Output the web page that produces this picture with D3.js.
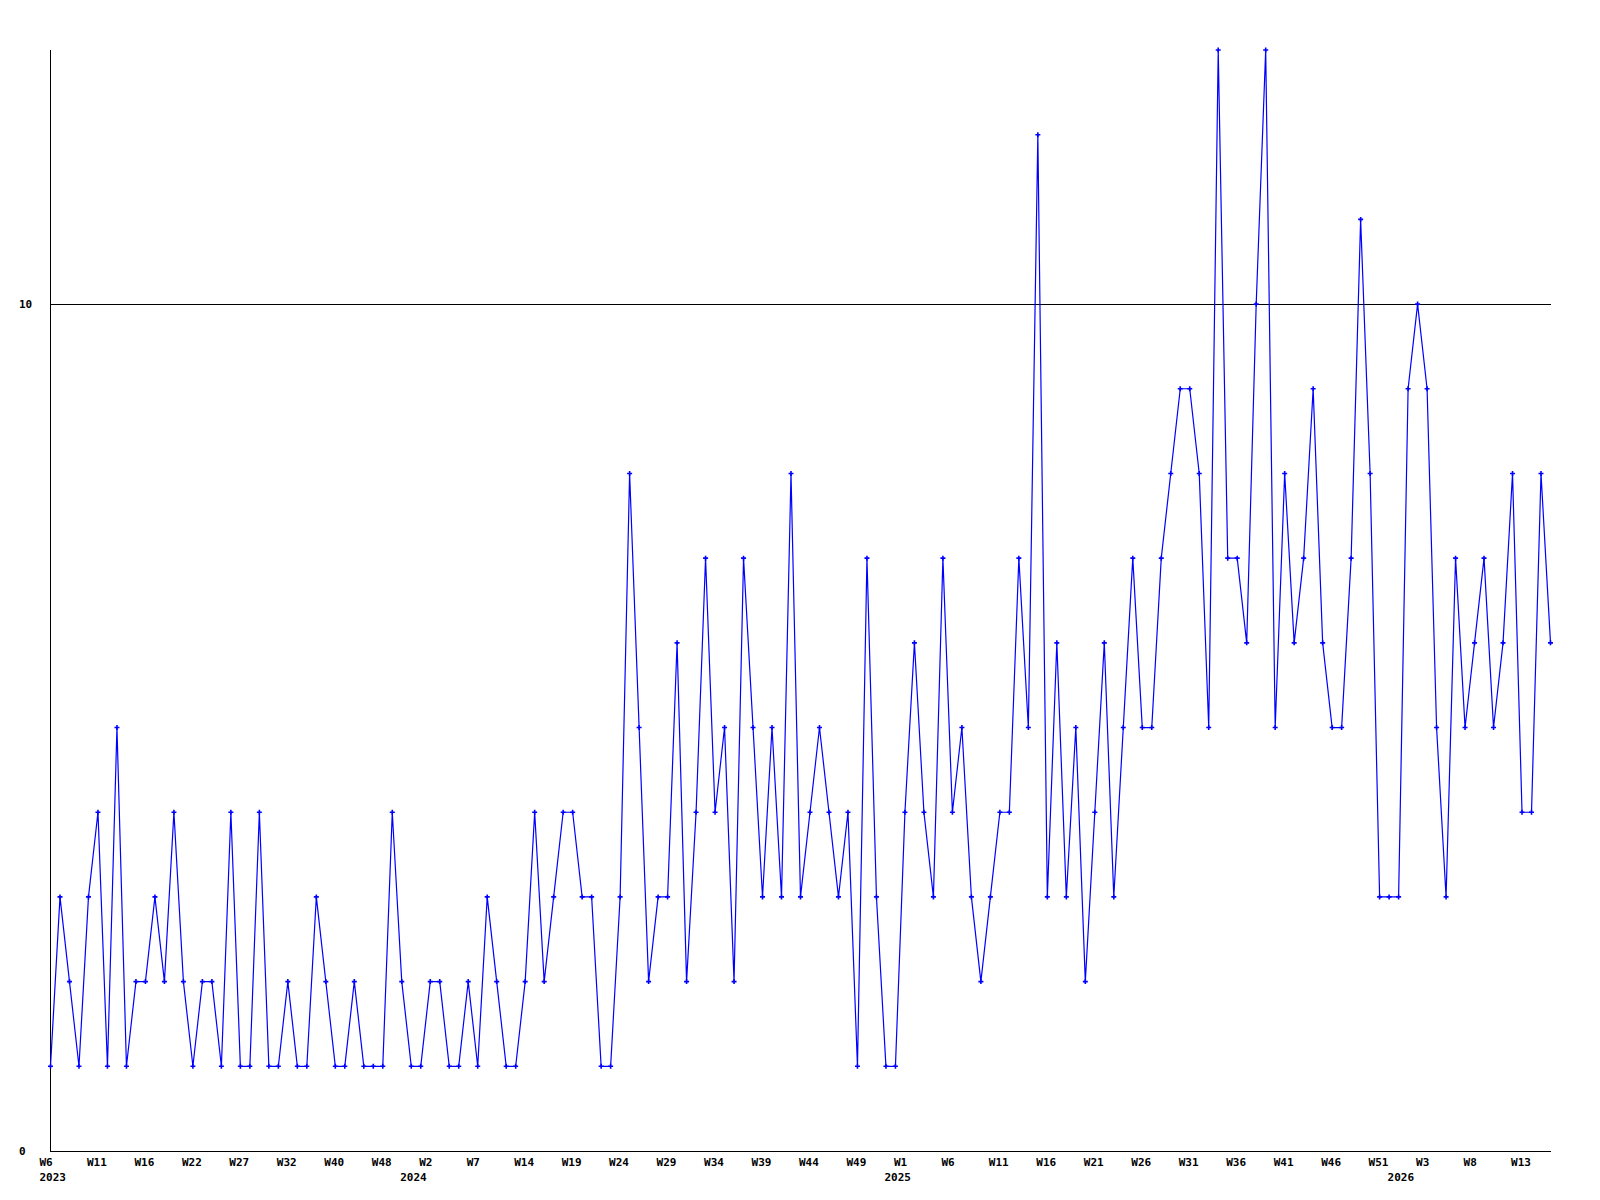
<!DOCTYPE html>
<html>
<head>
<meta charset="utf-8">
<script src="https://cdn.jsdelivr.net/npm/d3@7"></script>
<style>
  html, body { margin: 0; padding: 0; background: #fff; }
  svg { display: block; }
  text { font-family: "DejaVu Sans Mono", "Liberation Mono", monospace; font-weight: bold; font-size: 11px; fill: #000; }
</style>
</head>
<body>
<script>
// ---- data ----
const values = [
  1,3,2,1,3,4,1,5,1,2, 2,3,2,4,2,1,2,2,1,4,
  1,1,4,1,1,2,1,1,3,2, 1,1,2,1,1,1,4,2,1,1,
  2,2,1,1,2,1,3,2,1,1, 2,4,2,3,4,4,3,3,1,1,
  3,8,5,2,3,3,6,2,4,7, 4,5,2,7,5,3,5,3,8,3,
  4,5,4,3,4,1,7,3,1,1, 4,6,4,3,7,4,5,3,2,3,
  4,4,7,5,12,3,6,3,5,2, 4,6,3,5,7,5,5,7,8,9,
  9,8,5,13,7,7,6,10,13,5, 8,6,7,9,6,5,5,7,11,8,
  3,3,3,9,10,9,5,3,7,5, 6,7,5,6,8,4,4,8,6
];
const weekTickIndex = [0,5,10,15,20,25,30,35,40,45,50,55,60,65,70,75,80,85,90,95,100,105,110,115,120,125,130,135,140,145,150,155];
const weekTickLabels = ["W6","W11","W16","W22","W27","W32","W40","W48","W2","W7","W14","W19","W24","W29","W34","W39","W44","W49","W1","W6","W11","W16","W21","W26","W31","W36","W41","W46","W51","W3","W8","W13"];
const yearTickIndex = [0,38,89,142];
const yearTickLabels = ["2023","2024","2025","2026"];
const yTicks = [0,10];

// ---- layout ----
const W = 1600, H = 1200;
const plotLeft = 50.5, plotRight = 1550.5, plotBottom = 1151, plotTop = 50;

const svg = d3.select("body").append("svg").attr("width", W).attr("height", H);

const x = d3.scaleLinear().domain([0, values.length - 1]).range([plotLeft, plotRight]);
const y = d3.scaleLinear().domain([0, 13]).range([plotBottom, plotTop]);

// grid line at 10
svg.selectAll("line.grid").data(yTicks.filter(d => d > 0)).enter().append("line")
  .attr("x1", plotLeft).attr("x2", plotRight + 0.5)
  .attr("y1", d => Math.round(y(d)) + 0.5).attr("y2", d => Math.round(y(d)) + 0.5)
  .attr("stroke", "#000").attr("stroke-width", 1).attr("shape-rendering", "crispEdges");

// axes lines
const yAxis = d3.axisLeft(y).tickValues(yTicks).tickSize(0).tickFormat("");
svg.append("g").attr("transform", `translate(${plotLeft},0)`).call(yAxis)
  .call(g => g.select(".domain").attr("d", `M0,${Math.round(plotTop)}V${Math.round(plotBottom)+0.5}`).attr("stroke", "#000").attr("shape-rendering", "crispEdges"));

const xAxis = d3.axisBottom(x).tickValues(weekTickIndex).tickSize(0).tickFormat("");
svg.append("g").attr("transform", `translate(0,${Math.round(plotBottom)+0.5})`).call(xAxis)
  .call(g => g.select(".domain").attr("d", `M${plotLeft-0.5},0H${plotRight+0.5}`).attr("stroke", "#000").attr("shape-rendering", "crispEdges"));

// y labels
svg.selectAll("text.ylab").data(yTicks).enter().append("text")
  .attr("class", "ylab")
  .attr("x", 19).attr("y", d => y(d) + 4)
  .text(d => d);

// week labels
svg.selectAll("text.wk").data(weekTickIndex).enter().append("text")
  .attr("class", "wk")
  .attr("x", d => x(d) - 11).attr("y", 1166)
  .text((d, i) => weekTickLabels[i]);

// year labels
svg.selectAll("text.yr").data(yearTickIndex).enter().append("text")
  .attr("class", "yr")
  .attr("x", d => x(d) - 11).attr("y", 1181)
  .text((d, i) => yearTickLabels[i]);

// series line
const line = d3.line().x((d, i) => x(i)).y(d => y(d));
svg.append("path").datum(values)
  .attr("d", line)
  .attr("fill", "none").attr("stroke", "#0000ff").attr("stroke-width", 1.2);

// markers (small plus)
svg.selectAll("path.mk").data(values).enter().append("path")
  .attr("class", "mk")
  .attr("d", (d, i) => {
    const cx = x(i), cy = y(d);
    return `M${cx-2.5},${cy}H${cx+2.5}M${cx},${cy-2.5}V${cy+2.5}`;
  })
  .attr("stroke", "#0000ff").attr("stroke-width", 1.6).attr("fill", "none");
</script>
</body>
</html>
